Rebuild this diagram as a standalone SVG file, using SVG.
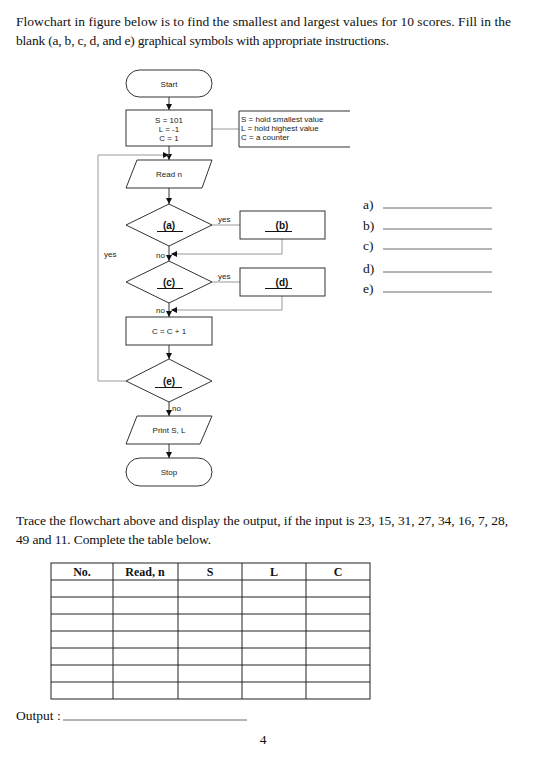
<svg xmlns="http://www.w3.org/2000/svg" width="536" height="773" viewBox="0 0 536 773">
<defs>
<style>
.body{font-family:"Liberation Serif","Times New Roman",serif;font-size:13.5px;fill:#111}
.fc{font-family:"Liberation Sans",Arial,sans-serif;font-size:8px;fill:#222}
.lbl{font-family:"Liberation Sans",Arial,sans-serif;font-size:10px;font-weight:bold;fill:#111}
.shape{fill:#fff;stroke:#333;stroke-width:1}
.main{stroke:#333;stroke-width:1;fill:none}
.side{stroke:#999;stroke-width:1;fill:none}
.ul{stroke:#111;stroke-width:1}
.tbl{stroke:#222;stroke-width:1;fill:none}
.th{font-family:"Liberation Serif","Times New Roman",serif;font-size:12px;font-weight:bold;fill:#111}
.blank{stroke:#444;stroke-width:0.8}
</style>
<marker id="ah" viewBox="0 0 10 10" refX="10" refY="5" markerWidth="6" markerHeight="6" orient="auto-start-reverse">
<path d="M0,0 L10,5 L0,10 z" fill="#111"/>
</marker>
</defs>
<rect width="536" height="773" fill="#fff"/>

<text class="body" x="16" y="26" textLength="495" lengthAdjust="spacing">Flowchart in figure below is to find the smallest and largest values for 10 scores. Fill in the</text>
<text class="body" x="16" y="45" textLength="373" lengthAdjust="spacing">blank (a, b, c, d, and e) graphical symbols with appropriate instructions.</text>

<g id="connectors">
<line class="main" x1="169" y1="97" x2="169" y2="110" marker-end="url(#ah)"/>
<line class="main" x1="169" y1="146" x2="169" y2="160" marker-end="url(#ah)"/>
<line class="side" x1="212" y1="129" x2="239" y2="129"/>
<line class="main" x1="169" y1="188" x2="169" y2="204" marker-end="url(#ah)"/>
<line class="side" x1="212" y1="225" x2="240" y2="225"/>
<polyline class="side" points="282,239 282,254 171,254" marker-end="url(#ah)"/>
<line class="main" x1="169" y1="246" x2="169" y2="261" marker-end="url(#ah)"/>
<line class="side" x1="212" y1="282" x2="240" y2="282"/>
<polyline class="side" points="282,296 282,310 171,310" marker-end="url(#ah)"/>
<line class="main" x1="169" y1="303" x2="169" y2="317" marker-end="url(#ah)"/>
<line class="main" x1="169" y1="345" x2="169" y2="359" marker-end="url(#ah)"/>
<polyline class="side" points="126,381 98,381 98,155 169,155" marker-end="url(#ah)"/>
<line class="main" x1="169" y1="402" x2="169" y2="416" marker-end="url(#ah)"/>
<line class="main" x1="169" y1="444" x2="169" y2="458" marker-end="url(#ah)"/>
<text class="fc" x="218" y="222" fill="#555">yes</text>
<text class="fc" x="218" y="279" fill="#555">yes</text>
<text class="fc" x="156" y="258">no</text>
<text class="fc" x="156" y="313">no</text>
<text class="fc" x="172" y="411">no</text>
<text class="fc" x="104" y="257">yes</text>
</g>

<g id="start">
<rect class="shape" x="126" y="70" width="86" height="27" rx="13.5"/>
<text class="fc" x="169" y="86.5" text-anchor="middle">Start</text>
</g>
<g id="init">
<rect class="shape" x="126" y="110" width="86" height="36"/>
<text class="fc" x="169" y="123" text-anchor="middle">S = 101</text>
<text class="fc" x="169" y="132" text-anchor="middle">L = -1</text>
<text class="fc" x="169" y="141" text-anchor="middle">C = 1</text>
</g>
<g id="note">
<polyline class="main" points="350,111 239,111 239,147 350,147"/>
<text class="fc" x="241" y="122">S = hold smallest value</text>
<text class="fc" x="241" y="131">L = hold highest value</text>
<text class="fc" x="241" y="140">C = a counter</text>
</g>
<g id="read">
<polygon class="shape" points="137,160 212,160 202,188 126,188"/>
<text class="fc" x="169" y="177" text-anchor="middle">Read n</text>
</g>
<g id="dec-a">
<polygon class="shape" points="169,204 212,225 169,246 126,225"/>
<text class="lbl" x="169" y="229" text-anchor="middle">(a)</text>
<line class="ul" x1="157" y1="231.5" x2="183" y2="231.5"/>
</g>
<g id="box-b">
<rect class="shape" x="240" y="211" width="85" height="28"/>
<text class="lbl" x="282" y="229" text-anchor="middle">(b)</text>
<line class="ul" x1="265" y1="231.5" x2="292" y2="231.5"/>
</g>
<g id="dec-c">
<polygon class="shape" points="169,261 212,282 169,303 126,282"/>
<text class="lbl" x="169" y="286" text-anchor="middle">(c)</text>
<line class="ul" x1="157" y1="288.5" x2="183" y2="288.5"/>
</g>
<g id="box-d">
<rect class="shape" x="240" y="268" width="85" height="28"/>
<text class="lbl" x="282" y="286" text-anchor="middle">(d)</text>
<line class="ul" x1="265" y1="288.5" x2="292" y2="288.5"/>
</g>
<g id="incr">
<rect class="shape" x="126" y="317" width="86" height="28"/>
<text class="fc" x="169" y="334" text-anchor="middle">C = C + 1</text>
</g>
<g id="dec-e">
<polygon class="shape" points="169,359 212,381 169,402 126,381"/>
<text class="lbl" x="169" y="385" text-anchor="middle">(e)</text>
<line class="ul" x1="155" y1="387.5" x2="182" y2="387.5"/>
</g>
<g id="print">
<polygon class="shape" points="137,416 212,416 200,444 126,444"/>
<text class="fc" x="169" y="433" text-anchor="middle">Print S, L</text>
</g>
<g id="stop">
<rect class="shape" x="126" y="458" width="86" height="28" rx="14"/>
<text class="fc" x="169" y="475" text-anchor="middle">Stop</text>
</g>

<g id="answers">
<text class="body" x="363" y="209" font-size="12">a)</text>
<text class="body" x="363" y="230" font-size="12">b)</text>
<text class="body" x="363" y="250" font-size="12">c)</text>
<text class="body" x="363" y="273" font-size="12">d)</text>
<text class="body" x="363" y="293" font-size="12">e)</text>
<line class="blank" x1="383" y1="208" x2="492" y2="208"/>
<line class="blank" x1="383" y1="229" x2="492" y2="229"/>
<line class="blank" x1="383" y1="249" x2="492" y2="249"/>
<line class="blank" x1="383" y1="272" x2="492" y2="272"/>
<line class="blank" x1="383" y1="292" x2="492" y2="292"/>
</g>

<text class="body" x="16" y="525" textLength="492" lengthAdjust="spacing">Trace the flowchart above and display the output, if the input is 23, 15, 31, 27, 34, 16, 7, 28,</text>
<text class="body" x="16" y="544" textLength="195" lengthAdjust="spacing">49 and 11. Complete the table below.</text>

<g id="table">
<rect class="tbl" x="51" y="563" width="319" height="136"/>
<line class="tbl" x1="113" y1="563" x2="113" y2="699"/>
<line class="tbl" x1="178" y1="563" x2="178" y2="699"/>
<line class="tbl" x1="242" y1="563" x2="242" y2="699"/>
<line class="tbl" x1="306" y1="563" x2="306" y2="699"/>
<line class="tbl" x1="51" y1="580" x2="370" y2="580"/>
<line class="tbl" x1="51" y1="597" x2="370" y2="597"/>
<line class="tbl" x1="51" y1="614" x2="370" y2="614"/>
<line class="tbl" x1="51" y1="631" x2="370" y2="631"/>
<line class="tbl" x1="51" y1="648" x2="370" y2="648"/>
<line class="tbl" x1="51" y1="665" x2="370" y2="665"/>
<line class="tbl" x1="51" y1="682" x2="370" y2="682"/>
<text class="th" x="82" y="575.5" text-anchor="middle">No.</text>
<text class="th" x="145" y="575.5" text-anchor="middle">Read, n</text>
<text class="th" x="210" y="575.5" text-anchor="middle">S</text>
<text class="th" x="274" y="575.5" text-anchor="middle">L</text>
<text class="th" x="338" y="575.5" text-anchor="middle">C</text>
</g>

<text class="body" x="16" y="720">Output :</text>
<line class="blank" x1="63" y1="720" x2="247" y2="720"/>
<text class="body" x="263" y="744" text-anchor="middle">4</text>
</svg>
